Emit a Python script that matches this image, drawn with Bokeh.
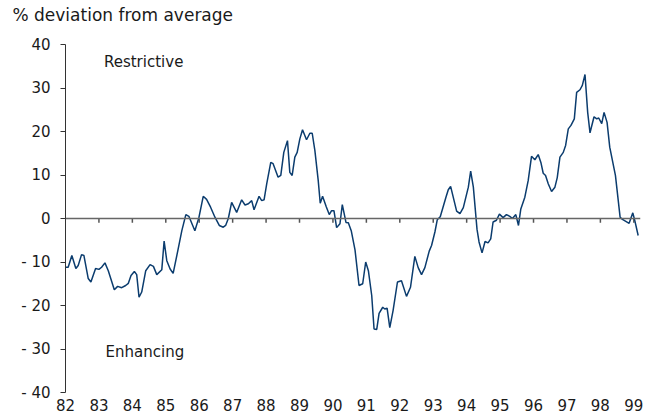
from bokeh.plotting import figure
from bokeh.models import Range1d, FixedTicker, Span, Label, Title
from bokeh.embed import file_html
from bokeh.resources import INLINE

# ---- data ----
years = [1982.00, 1982.08, 1982.19, 1982.31, 1982.38, 1982.48, 1982.55, 1982.68, 1982.76, 1982.90,
         1983.00, 1983.08, 1983.18, 1983.28, 1983.46, 1983.56, 1983.68, 1983.80, 1983.88, 1983.96,
         1984.06, 1984.13, 1984.20, 1984.28, 1984.40, 1984.53, 1984.63, 1984.73, 1984.88, 1984.95,
         1985.03, 1985.13, 1985.22, 1985.36, 1985.48, 1985.60, 1985.69, 1985.87, 1985.99,
         1986.12, 1986.22, 1986.34, 1986.47, 1986.60, 1986.72, 1986.79, 1986.87, 1986.97,
         1987.12, 1987.27, 1987.37, 1987.47, 1987.57, 1987.64, 1987.79, 1987.87, 1987.94,
         1988.02, 1988.14, 1988.21, 1988.36, 1988.44, 1988.53, 1988.64, 1988.71, 1988.78, 1988.86, 1988.93,
         1989.01, 1989.09, 1989.21, 1989.31, 1989.38, 1989.46, 1989.56, 1989.62, 1989.69, 1989.80, 1989.89, 1989.96,
         1990.03, 1990.11, 1990.21, 1990.28, 1990.39, 1990.46, 1990.55, 1990.66, 1990.78, 1990.89, 1990.98,
         1991.06, 1991.16, 1991.23, 1991.31, 1991.38, 1991.49, 1991.55, 1991.62, 1991.70, 1991.80, 1991.93,
         1992.05, 1992.20, 1992.32, 1992.45, 1992.55, 1992.65, 1992.75, 1992.88, 1992.95,
         1993.05, 1993.12, 1993.21, 1993.38, 1993.45, 1993.52, 1993.70, 1993.80, 1993.90,
         1994.05, 1994.12, 1994.20, 1994.31, 1994.37, 1994.46, 1994.55, 1994.64, 1994.72, 1994.79, 1994.89, 1994.98,
         1995.09, 1995.19, 1995.29, 1995.37, 1995.47, 1995.55, 1995.62, 1995.74, 1995.84, 1995.94,
         1996.04, 1996.14, 1996.22, 1996.29, 1996.36, 1996.44, 1996.54, 1996.64, 1996.71, 1996.79, 1996.89, 1996.96,
         1997.04, 1997.12, 1997.22, 1997.29, 1997.39, 1997.46, 1997.54, 1997.62, 1997.69, 1997.81, 1997.89, 1997.95,
         1998.04, 1998.11, 1998.20, 1998.28, 1998.45, 1998.59, 1998.66, 1998.86, 1998.97,
         1999.03, 1999.13]

deviation = [-11.2, -11.2, -8.5, -11.5, -10.8, -8.3, -8.5, -13.8, -14.6, -11.5,
             -11.7, -11.2, -10.2, -12.0, -16.4, -15.6, -15.9, -15.4, -14.9, -13.1,
             -12.2, -12.9, -18.1, -16.9, -12.0, -10.6, -11.0, -12.9, -11.8, -5.2,
             -9.7, -11.6, -12.6, -7.4, -2.8, 0.9, 0.5, -2.8, 0.2,
             5.1, 4.4, 2.6, 0.3, -1.6, -2.0, -1.6, 0.0, 3.7,
             1.4, 4.3, 3.1, 3.4, 4.1, 2.0, 5.1, 4.1, 4.3,
             8.0, 12.9, 12.6, 9.5, 9.9, 15.2, 17.9, 10.6, 9.9, 14.1, 15.2,
             18.3, 20.4, 18.1, 19.6, 19.6, 15.6, 8.7, 3.5, 5.1, 2.7, 0.9, 1.8,
             1.8, -2.1, -1.2, 3.2, -0.9, -1.0, -2.9, -7.2, -15.4, -15.0, -10.0,
             -12.0, -17.7, -25.4, -25.5, -21.8, -20.4, -20.8, -20.6, -25.1, -21.1, -14.6,
             -14.3, -17.9, -15.8, -8.7, -11.3, -12.9, -11.3, -7.5, -6.2,
             -3.1, -0.3, 0.4, 4.9, 6.6, 7.4, 1.7, 1.1, 2.5,
             7.2, 10.9, 7.2, -2.5, -5.4, -7.9, -5.3, -5.6, -4.7, -0.8, -0.4, 1.0,
             0.2, 0.9, 0.5, 0.0, 0.9, -1.6, 2.2, 4.9, 8.7, 14.3,
             13.5, 14.7, 12.9, 10.4, 9.9, 8.0, 6.2, 7.2, 9.4, 14.1, 15.2, 16.8,
             20.6, 21.4, 22.9, 29.0, 29.6, 30.6, 33.1, 24.4, 19.7, 23.4, 22.9, 23.1,
             21.8, 24.4, 22.1, 16.4, 9.9, 0.3, -0.2, -1.1, 1.3,
             -0.5, -3.9]

year_ticks = list(range(1982, 2000))
year_labels = ["82", "83", "84", "85", "86", "87", "88", "89", "90", "91",
               "92", "93", "94", "95", "96", "97", "98", "99"]
y_ticks = [-40, -30, -20, -10, 0, 10, 20, 30, 40]
y_labels = ["- 40", "- 30", "- 20", "- 10", "0", "10", "20", "30", "40"]

FONT = "DejaVu Sans"
TXT = "#1a1a1a"

p = figure(frame_width=575, frame_height=348,
           min_border_left=65, min_border_right=8, min_border_top=44, min_border_bottom=25,
           x_range=Range1d(1982, 1999.2), y_range=Range1d(-40, 40),
           output_backend="svg", toolbar_location=None,
           title="% deviation from average")
p.outline_line_color = None
p.grid.visible = False
p.background_fill_color = "white"
p.border_fill_color = "white"

# spacer between the frame and the unit note
p.add_layout(Title(text=" ", text_font_size="1px", standoff=17), "above")

# title (top-left unit note)
p.title.align = "left"
p.title.offset = -53
p.title.standoff = 0
p.title.text_font = FONT
p.title.text_font_size = "17px"
p.title.text_font_style = "normal"
p.title.text_color = TXT

# y axis
p.yaxis.ticker = FixedTicker(ticks=y_ticks)
p.yaxis.major_label_overrides = {t: l for t, l in zip(y_ticks, y_labels)}
p.yaxis.axis_line_color = "#333333"
p.yaxis.axis_line_width = 1
p.yaxis.major_tick_line_color = "#333333"
p.yaxis.major_tick_out = 5
p.yaxis.major_tick_in = 0
p.yaxis.minor_tick_line_color = None
p.yaxis.major_label_standoff = 10
p.yaxis.major_label_text_font = FONT
p.yaxis.major_label_text_font_size = "15px"
p.yaxis.major_label_text_color = TXT

# x axis (labels only, at the bottom)
p.xaxis.ticker = FixedTicker(ticks=year_ticks)
p.xaxis.major_label_overrides = {t: l for t, l in zip(year_ticks, year_labels)}
p.xaxis.axis_line_color = None
p.xaxis.major_tick_line_color = None
p.xaxis.major_tick_out = 0
p.xaxis.major_tick_in = 0
p.xaxis.minor_tick_line_color = None
p.xaxis.major_label_standoff = 6
p.xaxis.major_label_text_font = FONT
p.xaxis.major_label_text_font_size = "15px"
p.xaxis.major_label_text_color = TXT

# zero line with year ticks
p.add_layout(Span(location=0, dimension="width", line_color="#666666", line_width=1.5))
p.segment(x0=year_ticks[1:], y0=[0] * (len(year_ticks) - 1),
          x1=year_ticks[1:], y1=[-0.95] * (len(year_ticks) - 1),
          line_color="#555555", line_width=1.5)

# series
p.line(years, deviation, line_color="#0b3c6e", line_width=1.5)

# texts inside the plot
p.add_layout(Label(x=1983.15, y=35.9, text="Restrictive", text_font=FONT,
                   text_font_size="15px", text_color=TXT, text_baseline="middle", text_align="left"))
p.add_layout(Label(x=1983.20, y=-30.6, text="Enhancing", text_font=FONT,
                   text_font_size="15px", text_color=TXT, text_baseline="middle", text_align="left"))

open("out.html", "w").write(file_html(p, INLINE))
